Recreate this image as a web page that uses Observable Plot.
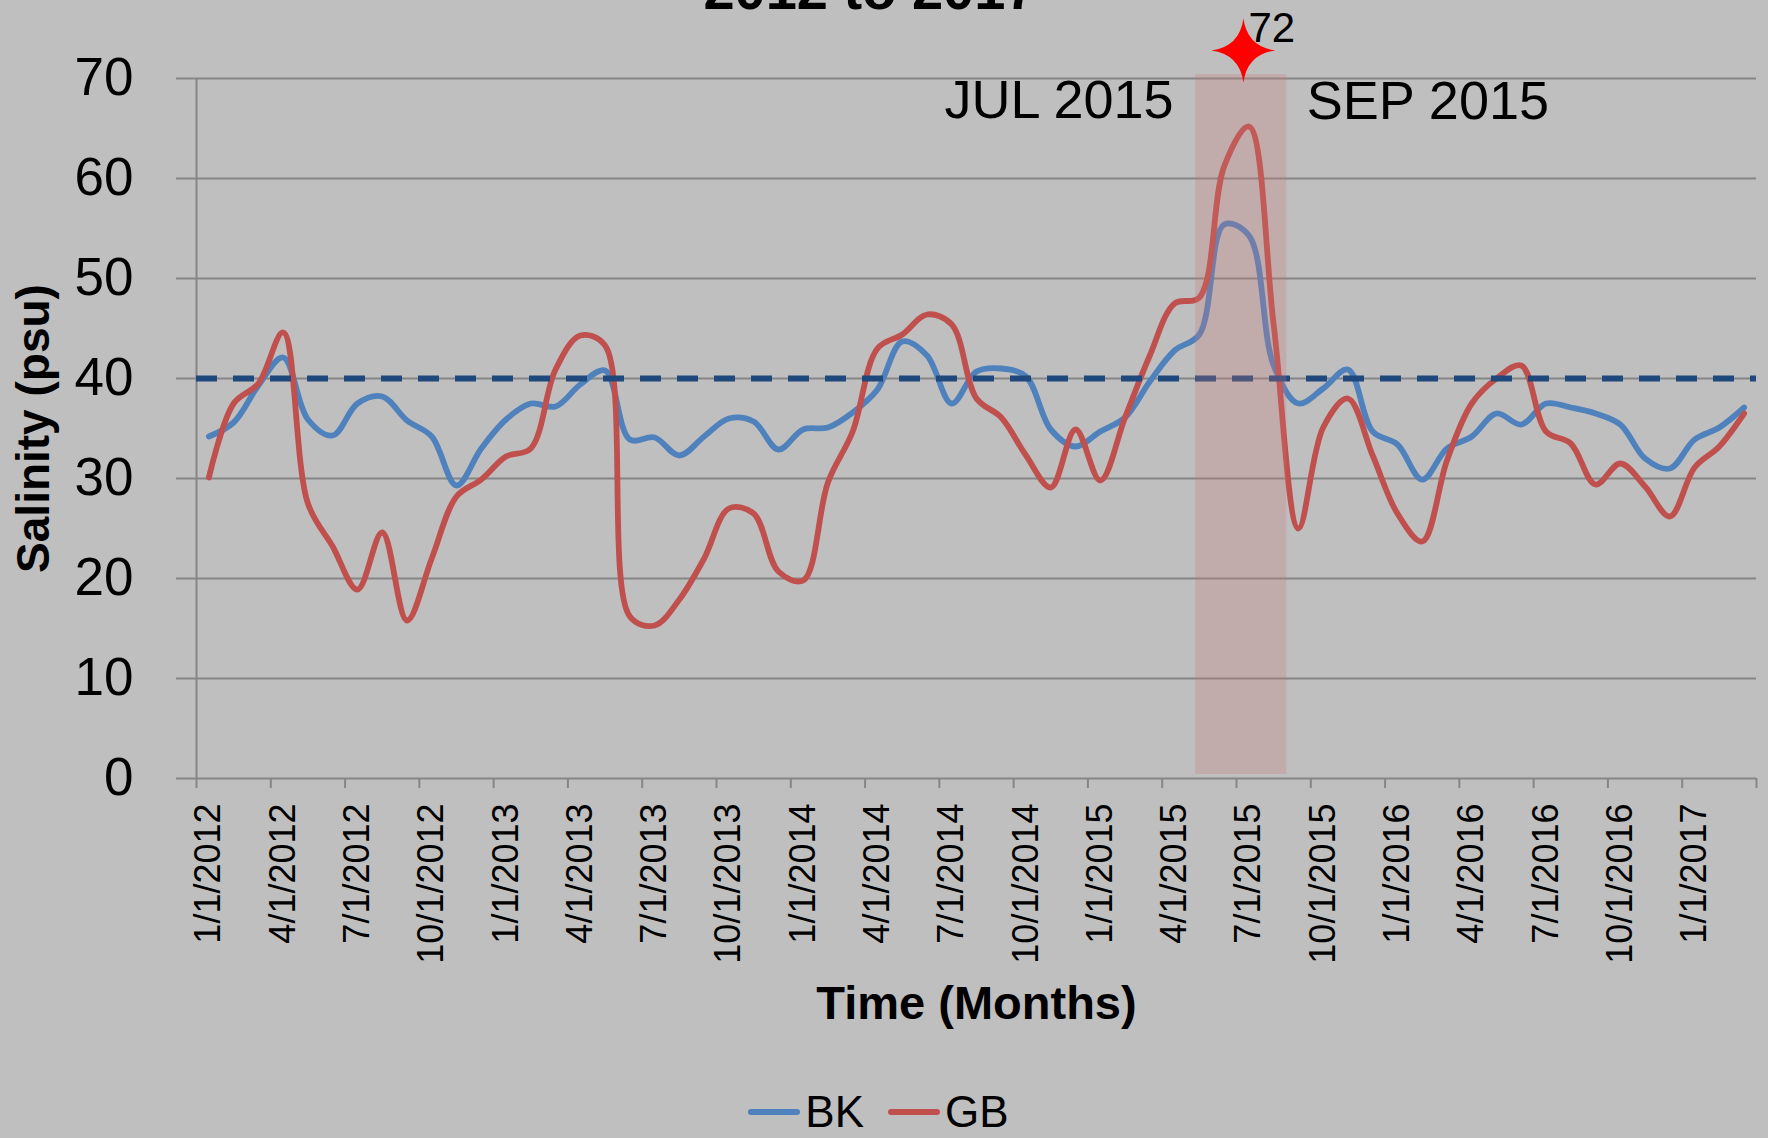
<!DOCTYPE html>
<html>
<head>
<meta charset="utf-8">
<script src="https://cdn.jsdelivr.net/npm/d3@7"></script>
<script src="https://cdn.jsdelivr.net/npm/@observablehq/plot@0.6"></script>
<style>
  html, body { margin: 0; padding: 0; background: #bfbfbf; }
  #wrap { position: relative; width: 1768px; height: 1138px; overflow: hidden;
          font-family: "Liberation Sans", Arial, sans-serif; color: #000; }
  #title { position: absolute; top: -38px; left: -14px; width: 1768px; text-align: center;
           font-weight: bold; font-size: 56px; line-height: 56px; white-space: nowrap; }
  #chart svg { display: block; }
  #legend { height: 53px; display: flex; justify-content: center; align-items: center;
            font-size: 44px; line-height: 52px; margin-left: -11px; }
  #legend .sw { display: inline-block; width: 52px; height: 6px; margin-right: 5px; border-radius: 3px; }
  #legend .item { display: inline-flex; align-items: center; margin: 0 12px; }
</style>
</head>
<body>
<div id="wrap">
  <div id="chart"></div>
  <div id="legend"></div>
  <div id="title"></div>
</div>
<script>
// ---------- data ----------
const titleText = "2012 to 2017";
const seriesNames = ["BK", "GB"];
const seriesColors = ["#4f81bd", "#c0504d"];

// monthly categories Jan 2012 .. Mar 2017 (63 months)
const months = d3.utcMonth.range(new Date(Date.UTC(2012, 0, 1)), new Date(Date.UTC(2017, 3, 1)));

const bk = [34.2, 35.6, 39.3, 42.1, 35.9, 34.3, 37.5, 38.2, 35.8, 34.2, 29.3, 33.0,
            35.9, 37.5, 37.2, 39.4, 40.8, 33.9, 34.1, 32.3, 34.2, 36.0, 35.7, 32.9,
            34.9, 35.1, 36.6, 38.9, 43.7, 42.3, 37.5, 40.7, 41.0, 40.2, 34.9, 33.2,
            34.7, 36.1, 39.7, 42.8, 44.4, 55.4, 54.3, 41.3, 37.5, 39.0, 40.9, 34.7,
            33.4, 29.9, 33.0, 34.2, 36.5, 35.4, 37.5, 37.1, 36.5, 35.4, 32.0, 31.0,
            33.9, 35.1, 37.1];
const gb = [30.1, 37.5, 39.5, 44.6, 27.5, 23.2, 18.9, 24.6, 15.8, 22.0, 28.2, 29.9,
            32.2, 33.0, 40.9, 44.3, 43.3, 16.2, 15.3, 17.9, 22.0, 27.0, 26.5, 20.7,
            19.8, 29.6, 34.7, 43.0, 44.4, 46.4, 45.4, 38.0, 36.1, 32.3, 29.1, 34.9,
            29.8, 36.1, 42.3, 47.5, 48.1, 61.2, 65.2, 45.4, 25.0, 35.1, 38.0, 32.3,
            26.5, 23.7, 31.8, 37.5, 40.0, 41.3, 34.7, 33.5, 29.4, 31.5, 29.2, 26.2,
            31.1, 33.2, 36.5];

const tickLabels = ["1/1/2012", "4/1/2012", "7/1/2012", "10/1/2012",
                    "1/1/2013", "4/1/2013", "7/1/2013", "10/1/2013",
                    "1/1/2014", "4/1/2014", "7/1/2014", "10/1/2014",
                    "1/1/2015", "4/1/2015", "7/1/2015", "10/1/2015",
                    "1/1/2016", "4/1/2016", "7/1/2016", "10/1/2016",
                    "1/1/2017"];
const yTicks = [0, 10, 20, 30, 40, 50, 60, 70];
const threshold = 40;

// highlighted period (in month-slot units) and its labels
const highlight = [{start: 40.35, end: 44.03, low: 0.4, high: 70.4}];
const highlightLabels = ["JUL 2015", "SEP 2015"];
// peak marker
const peak = [{slot: 42.28, value: 72}];

const yTitle = "Salinity (psu)";
const xTitle = "Time (Months)";

// ---------- build ----------
const rows = [];
months.forEach((m, i) => {
  rows.push({slot: i + 0.5, value: bk[i], series: seriesNames[0]});
});
months.forEach((m, i) => {
  rows.push({slot: i + 0.5, value: gb[i], series: seriesNames[1]});
});
const nSlots = months.length;
const tickSlots = d3.range(0, nSlots + 1, 3);
const labelSlots = tickLabels.map((t, k) => k * 3 + 0.5);
const labelBySlot = new Map(labelSlots.map((s, k) => [s, tickLabels[k]]));

const star4 = {
  draw(ctx, size) {
    const R = Math.sqrt(size / Math.PI);
    const r = R * 0.12;
    ctx.moveTo(0, -R);
    ctx.quadraticCurveTo(r, -r, R, 0);
    ctx.quadraticCurveTo(r, r, 0, R);
    ctx.quadraticCurveTo(-r, r, -R, 0);
    ctx.quadraticCurveTo(-r, -r, 0, -R);
    ctx.closePath();
  }
};

const gridColor = "#868686";

const chart = Plot.plot({
  width: 1768,
  height: 1085,
  marginLeft: 196,
  marginRight: 12,
  marginTop: 78,
  marginBottom: 307,
  style: {background: "transparent", color: "#000", fontFamily: "'Liberation Sans', Arial, sans-serif", overflow: "visible"},
  x: {domain: [0, nSlots], axis: null},
  y: {domain: [0, 70], axis: null},
  color: {domain: seriesNames, range: seriesColors},
  marks: [
    Plot.gridY(yTicks, {stroke: gridColor, strokeOpacity: 1, strokeWidth: 2}),
    Plot.axisY(yTicks, {tickSize: 20, tickPadding: 43, fontSize: 53, stroke: gridColor, strokeWidth: 2,
                        fill: "#000", label: null, tickFormat: d => String(d)}),
    Plot.ruleX([0], {stroke: gridColor, strokeWidth: 2}),
    Plot.axisX(tickSlots, {tickSize: 10, stroke: gridColor, strokeWidth: 2, tickFormat: () => "", label: null}),
    Plot.axisX(labelSlots, {tickSize: 0, tickPadding: 25, tickRotate: -90, fontSize: 36, fill: "#000",
                            label: null, tickFormat: d => labelBySlot.get(d)}),
    Plot.line(rows, {x: "slot", y: "value", z: "series", stroke: "series", curve: "catmull-rom",
                     strokeWidth: 5.8, strokeLinejoin: "round", strokeLinecap: "round"}),
    Plot.ruleY([threshold], {stroke: "#1f497d", strokeWidth: 6, strokeDasharray: "21,16"}),
    Plot.rect(highlight, {x1: "start", x2: "end", y1: "low", y2: "high", fill: "rgb(200,120,120)", fillOpacity: 0.27}),
    Plot.text(highlight, {x: "start", y: () => 70, text: () => highlightLabels[0], textAnchor: "end",
                          lineAnchor: "bottom", dx: -22, dy: 39, fontSize: 54, fill: "#000"}),
    Plot.text(highlight, {x: "end", y: () => 70, text: () => highlightLabels[1], textAnchor: "start",
                          lineAnchor: "bottom", dx: 20, dy: 40, fontSize: 54, fill: "#000"}),
    Plot.dot(peak, {x: "slot", y: "value", symbol: star4, r: 32, fill: "#ff0000", stroke: "none", dy: -8}),
    Plot.text(peak, {x: "slot", y: "value", text: d => String(d.value), textAnchor: "start",
                     lineAnchor: "bottom", dx: 5, dy: -17, fontSize: 42, fill: "#000"}),
    Plot.text([yTitle], {frameAnchor: "left", dx: -162, rotate: -90, textAnchor: "middle", lineAnchor: "middle",
                         fontWeight: "bold", fontSize: 46, fill: "#000"}),
    Plot.text([xTitle], {frameAnchor: "bottom", dy: 225, textAnchor: "middle", lineAnchor: "middle",
                         fontWeight: "bold", fontSize: 47, fill: "#000"})
  ]
});
document.getElementById("chart").appendChild(chart);

document.getElementById("title").textContent = titleText;

const legend = document.getElementById("legend");
seriesNames.forEach((name, k) => {
  const item = document.createElement("span");
  item.className = "item";
  const sw = document.createElement("span");
  sw.className = "sw";
  sw.style.background = seriesColors[k];
  const lab = document.createElement("span");
  lab.textContent = name;
  item.appendChild(sw);
  item.appendChild(lab);
  legend.appendChild(item);
});
</script>
</body>
</html>
